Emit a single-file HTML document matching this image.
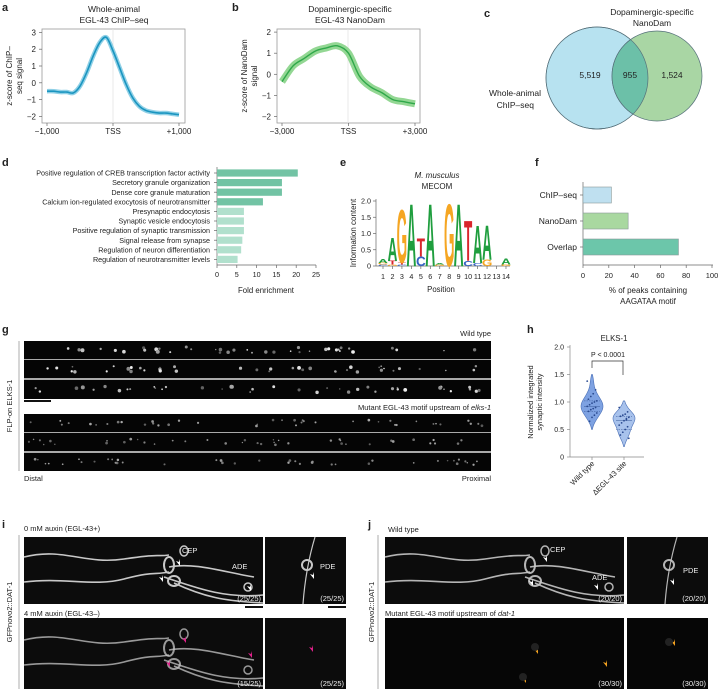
<!DOCTYPE html>
<html><head><meta charset="utf-8"><style>
html,body{margin:0;padding:0;background:#fff}
svg{display:block;font-family:"Liberation Sans",sans-serif}
text{fill:#222}
</style></head><body>
<svg id="fig" width="721" height="689" viewBox="0 0 721 689" xmlns="http://www.w3.org/2000/svg">
<g font-weight="bold" font-size="11">
<text x="2" y="11">a</text><text x="232" y="11">b</text><text x="484" y="17">c</text>
<text x="2" y="166">d</text><text x="340" y="166">e</text><text x="535" y="166">f</text>
<text x="2" y="333">g</text><text x="527" y="333">h</text><text x="2" y="528">i</text><text x="368" y="528">j</text>
</g>
<!-- panel a -->
<g font-size="8">
<text x="114" y="12" text-anchor="middle" font-size="8.5">Whole-animal</text>
<text x="114" y="23" text-anchor="middle" font-size="8.5">EGL-43 ChIP–seq</text>
<rect x="42" y="29" width="143" height="94" fill="none" stroke="#999" stroke-width="0.8"/>
<line x1="113" y1="29" x2="113" y2="123" stroke="#e4e4e4" stroke-width="0.8"/>
<text transform="translate(12,76) rotate(-90)" text-anchor="middle">z-score of ChIP–</text>
<text transform="translate(22,76) rotate(-90)" text-anchor="middle">seq signal</text>
<g id="a-ticks"></g><g id="a-series"></g>
</g>
<!-- panel b -->
<g font-size="8">
<text x="350" y="12" text-anchor="middle" font-size="8.5">Dopaminergic-specific</text>
<text x="350" y="23" text-anchor="middle" font-size="8.5">EGL-43 NanoDam</text>
<rect x="277" y="29" width="143" height="94" fill="none" stroke="#999" stroke-width="0.8"/>
<line x1="348" y1="29" x2="348" y2="123" stroke="#e4e4e4" stroke-width="0.8"/>
<text transform="translate(247,76) rotate(-90)" text-anchor="middle">z-score of NanoDam</text>
<text transform="translate(257,76) rotate(-90)" text-anchor="middle">signal</text>
<g id="b-ticks"></g><g id="b-series"></g>
</g>
<!-- panel c -->
<g font-size="8">
<text x="652" y="15" text-anchor="middle" font-size="8.5">Dopaminergic-specific</text>
<text x="652" y="26" text-anchor="middle" font-size="8.5">NanoDam</text>
<circle cx="597" cy="78" r="51" fill="#b7e2f0" stroke="#55707a" stroke-width="0.7"/>
<circle cx="657" cy="76" r="45" fill="#a9d6a4" stroke="#55707a" stroke-width="0.7"/>
<clipPath id="clipBlue"><circle cx="597" cy="78" r="51"/></clipPath>
<circle cx="657" cy="76" r="45" fill="#6cc0a8" stroke="#55707a" stroke-width="0.7" clip-path="url(#clipBlue)"/>
<circle cx="597" cy="78" r="51" fill="none" stroke="#55707a" stroke-width="0.7"/>
<text x="590" y="78" text-anchor="middle" font-size="8.5">5,519</text>
<text x="630" y="78" text-anchor="middle" font-size="8.5">955</text>
<text x="672" y="78" text-anchor="middle" font-size="8.5">1,524</text>
<text x="541" y="96" text-anchor="end" font-size="8.5">Whole-animal</text>
<text x="534" y="108" text-anchor="end" font-size="8.5">ChIP–seq</text>
</g>
<!-- panel d -->
<g font-size="7.2">
<line x1="217" y1="167" x2="217" y2="265" stroke="#666" stroke-width="0.7"/>
<line x1="217" y1="265" x2="316" y2="265" stroke="#666" stroke-width="0.7"/>
<g id="d-bars"></g>
<text x="266" y="293" text-anchor="middle" font-size="7.8">Fold enrichment</text>
</g>
<!-- panel e -->
<g font-size="7.2">
<text x="437" y="178" text-anchor="middle" font-style="italic" font-size="8">M. musculus</text>
<text x="437" y="189" text-anchor="middle" font-size="8">MECOM</text>
<line x1="376" y1="199" x2="376" y2="266" stroke="#666" stroke-width="0.7"/>
<line x1="376" y1="266" x2="510" y2="266" stroke="#666" stroke-width="0.7"/>
<text transform="translate(356,233) rotate(-90)" text-anchor="middle" font-size="8">Information content</text>
<g id="e-logo"></g>
<text x="441" y="292" text-anchor="middle" font-size="7.8">Position</text>
</g>
<!-- panel f -->
<g font-size="8">
<line x1="583" y1="182" x2="583" y2="265" stroke="#666" stroke-width="0.7"/>
<line x1="583" y1="265" x2="713" y2="265" stroke="#666" stroke-width="0.7"/>
<g id="f-bars"></g>
<text x="648" y="293" text-anchor="middle" font-size="8">% of peaks containing</text>
<text x="648" y="304" text-anchor="middle" font-size="8">AAGATAA motif</text>
</g>
<!-- panel g -->
<g font-size="7.5">
<text x="491" y="336" text-anchor="end">Wild type</text>
<line x1="19" y1="341" x2="19" y2="471" stroke="#999" stroke-width="0.8"/>
<text transform="translate(12,406) rotate(-90)" text-anchor="middle" font-size="7.5">FLP-on ELKS-1</text>
<g id="g-strips"></g>
<rect x="24" y="400" width="27" height="2" fill="#111"/>
<text x="491" y="410" text-anchor="end">Mutant EGL-43 motif upstream of <tspan font-style="italic">elks-1</tspan></text>
<text x="24" y="481">Distal</text>
<text x="491" y="481" text-anchor="end">Proximal</text>
</g>
<!-- panel h -->
<g font-size="7">
<text x="614" y="341" text-anchor="middle" font-size="7.8">ELKS-1</text>
<line x1="570" y1="345" x2="570" y2="457" stroke="#888" stroke-width="0.7"/>
<line x1="570" y1="457" x2="644" y2="457" stroke="#888" stroke-width="0.7"/>
<text transform="translate(533,402) rotate(-90)" text-anchor="middle" font-size="7.5">Normalized integrated</text>
<text transform="translate(542,402) rotate(-90)" text-anchor="middle" font-size="7.5">synaptic intensity</text>
<g id="h-plot"></g>
<path d="M592,368 V361 H623 V375" fill="none" stroke="#333" stroke-width="0.7"/>
<text x="608" y="357" text-anchor="middle" font-size="7">P &lt; 0.0001</text>
<text transform="translate(595,464) rotate(-45)" text-anchor="end" font-size="7.5">Wild type</text>
<text transform="translate(627,464) rotate(-45)" text-anchor="end" font-size="7.5">ΔEGL-43 site</text>
</g>
<!-- panel i -->
<g font-size="7.5">
<text x="24" y="531">0 mM auxin (EGL-43+)</text>
<line x1="19" y1="535" x2="19" y2="689" stroke="#999" stroke-width="0.8"/>
<text transform="translate(12,612) rotate(-90)" text-anchor="middle">GFPnovo2::DAT-1</text>
<rect x="24" y="537" width="239" height="67" fill="#0c0c0c"/>
<rect x="265" y="537" width="81" height="67" fill="#0c0c0c"/>
<rect x="24" y="618" width="239" height="71" fill="#0c0c0c"/>
<rect x="265" y="618" width="81" height="71" fill="#0c0c0c"/>
<rect x="245" y="606" width="18" height="2" fill="#111"/><rect x="328" y="606" width="18" height="2" fill="#111"/>
<text x="24" y="616">4 mM auxin (EGL-43–)</text>
<g id="i-neurons"></g>
</g>
<!-- panel j -->
<g font-size="7.5">
<text x="388" y="532">Wild type</text>
<line x1="378" y1="535" x2="378" y2="689" stroke="#999" stroke-width="0.8"/>
<text transform="translate(374,612) rotate(-90)" text-anchor="middle">GFPnovo2::DAT-1</text>
<rect x="385" y="537" width="239" height="67" fill="#0c0c0c"/>
<rect x="627" y="537" width="81" height="67" fill="#0c0c0c"/>
<rect x="385" y="618" width="239" height="71" fill="#060606"/>
<rect x="627" y="618" width="81" height="71" fill="#060606"/>
<text x="385" y="616">Mutant EGL-43 motif upstream of <tspan font-style="italic">dat-1</tspan></text>
<g id="j-neurons"></g>
</g>
</svg>
<script>
// ---- data ----
const aPositions = [-1000,-900,-800,-700,-600,-500,-400,-300,-200,-100,0,100,200,300,400,500,600,700,800,900,1000];
const aValues = [-0.5,-0.5,-0.55,-0.55,-0.6,-0.2,0.6,1.6,2.4,2.7,1.9,0.9,-0.1,-0.9,-1.4,-1.65,-1.75,-1.8,-1.8,-1.85,-1.9];
const aYTicks = [3,2,1,0,-1,-2];
const bPositions = [-3000,-2500,-2000,-1500,-1000,-500,0,500,1000,1500,2000,2500,3000];
const bValues = [-0.35,0.4,0.75,1.1,1.25,1.35,1.0,-0.1,-0.6,-0.87,-1.2,-1.3,-1.4];
const bYTicks = [2,1,0,-1,-2];
const dTerms = ["Positive regulation of CREB transcription factor activity","Secretory granule organization","Dense core granule maturation","Calcium ion-regulated exocytosis of neurotransmitter","Presynaptic endocytosis","Synaptic vesicle endocytosis","Positive regulation of synaptic transmission","Signal release from synapse","Regulation of neuron differentiation","Regulation of neurotransmitter levels"];
const dFold = [20.4,16.4,16.4,11.6,6.8,6.8,6.8,6.4,6.1,5.2];
const dTicks = [0,5,10,15,20,25];
const ePositions = [1,2,3,4,5,6,7,8,9,10,11,12,13,14];
const eLetters = [["C","G","A"],["G","T","A"],["C","T","G"],["A"],["C","T"],["A"],["G","A"],["G"],["A"],["C","T"],["C","A"],["G","A"],[],["G","A"]];
const eBits = [[0.04,0.05,0.12],[0.04,0.12,0.75],[0.04,0.05,1.7],[2.0],[0.3,0.58],[2.0],[0.04,0.04],[2.0],[2.0],[0.17,1.3],[0.1,1.2],[0.2,1.1],[],[0.05,0.18]];
const eYTicks = [0,0.5,1.0,1.5,2.0];
const fCats = ["ChIP–seq","NanoDam","Overlap"];
const fValues = [22,35,74];
const fTicks = [0,20,40,60,80,100];
const hCats = ["Wild type","ΔEGL-43 site"];
const hWT = [1.38,1.22,1.15,1.1,1.05,1.02,1.0,0.98,0.95,0.92,0.9,0.88,0.86,0.83,0.8,0.76,0.72,0.65];
const hMut = [0.9,0.82,0.78,0.76,0.74,0.72,0.7,0.66,0.62,0.58,0.55,0.5,0.45,0.4,0.34,0.68];
const hTicks = [0,0.5,1.0,1.5,2.0];

const NS="http://www.w3.org/2000/svg";
function mk(tag,attrs,parent,txt){const e=document.createElementNS(NS,tag);for(const k in attrs)e.setAttribute(k,attrs[k]);if(txt!==undefined)e.textContent=txt;parent.appendChild(e);return e;}
const $=id=>document.getElementById(id);
function smooth(pts){let d=`M${pts[0][0]},${pts[0][1]}`;for(let i=0;i<pts.length-1;i++){const p0=pts[Math.max(0,i-1)],p1=pts[i],p2=pts[i+1],p3=pts[Math.min(pts.length-1,i+2)];d+=` C${p1[0]+(p2[0]-p0[0])/6},${p1[1]+(p2[1]-p0[1])/6} ${p2[0]-(p3[0]-p1[0])/6},${p2[1]-(p3[1]-p1[1])/6} ${p2[0]},${p2[1]}`;}return d;}

// panel a
(function(){
 const xa=v=>47+(v+1000)/2000*132, ya=v=>116.4-(v+2)*16.8;
 const t=$("a-ticks");
 aYTicks.forEach(v=>{mk("line",{x1:39,x2:42,y1:ya(v),y2:ya(v),stroke:"#666","stroke-width":0.7},t);const l=mk("text",{x:36,y:ya(v)+3,"text-anchor":"end"},t,String(v).replace("-","−"));});
 [[-1000,"−1,000"],[0,"TSS"],[1000,"+1,000"]].forEach(([v,s])=>{mk("line",{x1:xa(v),x2:xa(v),y1:123,y2:126,stroke:"#666","stroke-width":0.7},t);mk("text",{x:xa(v),y:134,"text-anchor":"middle"},t,s);});
 const g=$("a-series");
 const pts=aPositions.map((p,i)=>[xa(p),ya(aValues[i])]);
 const band=mk("path",{d:smooth(pts),fill:"none",stroke:"#8fd0e6","stroke-width":4.5,"stroke-linejoin":"round"},g);
 
 const ln=mk("path",{d:smooth(pts),fill:"none",stroke:"#1a95c0","stroke-width":1.6},g);
 
})();
// panel b
(function(){
 const xb=v=>282+(v+3000)/6000*133, yb=v=>116.5-(v+2)*21.1;
 const t=$("b-ticks");
 bYTicks.forEach(v=>{mk("line",{x1:274,x2:277,y1:yb(v),y2:yb(v),stroke:"#666","stroke-width":0.7},t);const l=mk("text",{x:271,y:yb(v)+3,"text-anchor":"end"},t,String(v).replace("-","−"));});
 [[-3000,"−3,000"],[0,"TSS"],[3000,"+3,000"]].forEach(([v,s])=>{mk("line",{x1:xb(v),x2:xb(v),y1:123,y2:126,stroke:"#666","stroke-width":0.7},t);mk("text",{x:xb(v),y:134,"text-anchor":"middle"},t,s);});
 const g=$("b-series");
 const pts=bPositions.map((p,i)=>[xb(p),yb(bValues[i])]);
 const band=mk("path",{d:smooth(pts),fill:"none",stroke:"#93d793","stroke-width":7,"stroke-linejoin":"round"},g);
 
 const ln=mk("path",{d:smooth(pts),fill:"none",stroke:"#2fa84a","stroke-width":1.4},g);
 
})();
// panel d
(function(){
 const xd=v=>217+v*3.96, yd=i=>173+i*9.6;
 const g=$("d-bars");
 dTerms.forEach((s,i)=>{
  const r=mk("rect",{x:217,y:yd(i)-3.6,width:xd(dFold[i])-217,height:7.2,fill:i<4?"#72c3a4":"#b1e0cd"},g);
  
  mk("line",{x1:214,x2:217,y1:yd(i),y2:yd(i),stroke:"#666","stroke-width":0.7},g);
  mk("text",{x:210,y:yd(i)+2.6,"text-anchor":"end"},g,s);
 });
 dTicks.forEach(v=>{mk("line",{x1:xd(v),x2:xd(v),y1:265,y2:268,stroke:"#666","stroke-width":0.7},g);mk("text",{x:xd(v),y:277,"text-anchor":"middle"},g,String(v));});
})();
// panel e
(function(){
 const xe=p=>383+(p-1)*9.46, ye=v=>266-v*32.5;
 const col={A:"#1f9e3e",G:"#f5a623",T:"#d9262c",C:"#3562c4"};
 const g=$("e-logo");
 eYTicks.forEach(v=>{mk("line",{x1:373,x2:376,y1:ye(v),y2:ye(v),stroke:"#666","stroke-width":0.7},g);mk("text",{x:371,y:ye(v)+2.5,"text-anchor":"end"},g,v===0?"0":v.toFixed(1));});
 ePositions.forEach((p,i)=>{
  mk("line",{x1:xe(p),x2:xe(p),y1:266,y2:269,stroke:"#666","stroke-width":0.7},g);
  mk("text",{x:xe(p),y:279,"text-anchor":"middle"},g,String(p));
  let base=0;
  eLetters[i].forEach((L,j)=>{
   const h=eBits[i][j]; const y0=ye(base);
   const sy=(h*32.5)/7.3;
   const t=mk("text",{transform:`translate(${xe(p)},${y0}) scale(1.35,${sy.toFixed(3)})`,"text-anchor":"middle","font-size":10,"font-weight":"bold",style:"fill:"+col[L]},g,L);
   
   base+=h;
  });
 });
})();
// panel f
(function(){
 const xf=v=>583+v*1.29, yf=i=>195+i*26;
 const fills=["#bfe0f0","#a9d8a0","#6cc6aa"];
 const g=$("f-bars");
 fCats.forEach((s,i)=>{
  const r=mk("rect",{x:583,y:yf(i)-8,width:xf(fValues[i])-583,height:16,fill:fills[i],stroke:"#8a9a9a","stroke-width":0.6},g);
  
  mk("line",{x1:580,x2:583,y1:yf(i),y2:yf(i),stroke:"#666","stroke-width":0.7},g);
  mk("text",{x:577,y:yf(i)+3,"text-anchor":"end","font-size":8.5},g,s);
 });
 fTicks.forEach(v=>{mk("line",{x1:xf(v),x2:xf(v),y1:265,y2:268,stroke:"#666","stroke-width":0.7},g);mk("text",{x:xf(v),y:278,"text-anchor":"middle","font-size":7.5},g,String(v));});
})();
// panel g strips (image texture, deterministic)
(function(){
 let s=12345;const rnd=()=>{s=(s*1103515245+12345)%2147483648;return s/2147483648;};
 const g=$("g-strips");
 const strips=[[341,18,1],[360,18,1],[380,19,1],[414,18,0.55],[433,18,0.55],[453,18,0.55]];
 mk("rect",{x:24,y:341,width:467,height:58,fill:"#aaa"},g);
 mk("rect",{x:24,y:414,width:467,height:57,fill:"#aaa"},g);
 strips.forEach(([y,h,b])=>{
  const r=mk("rect",{x:24,y:y,width:467,height:h,fill:"#050505"},g);
  
  for(let k=0;k<40;k++){const x=28+rnd()*459, yy=y+h/2+(rnd()-0.5)*6; const rad=0.7+rnd()*1.3*b; const v=Math.floor(90+rnd()*150*b);
   mk("circle",{cx:x,cy:yy,r:rad,fill:`rgb(${v},${v},${v})`},g);}
 });
})();
// panel h
(function(){
 const yh=v=>457-v*55, xc=[592,624];
 const g=$("h-plot");
 hTicks.forEach(v=>{mk("line",{x1:567,x2:570,y1:yh(v),y2:yh(v),stroke:"#888","stroke-width":0.7},g);mk("text",{x:564,y:yh(v)+2.5,"text-anchor":"end"},g,v===0?"0":v.toFixed(1));});
 [hWT,hMut].forEach((arr,ci)=>{
  mk("line",{x1:xc[ci],x2:xc[ci],y1:457,y2:460,stroke:"#888","stroke-width":0.7},g);
  const mn=Math.min(...arr)-0.15, mx=Math.max(...arr)+0.12, bw=0.09;
  const pts=[],steps=40;
  for(let k=0;k<=steps;k++){const v=mn+(mx-mn)*k/steps;let d=0;arr.forEach(a=>{d+=Math.exp(-0.5*((v-a)/bw)**2);});pts.push([v,d]);}
  const dmax=Math.max(...pts.map(p=>p[1]));
  const right=pts.map(p=>`${xc[ci]+p[1]/dmax*11},${yh(p[0])}`), left=pts.map(p=>`${xc[ci]-p[1]/dmax*11},${yh(p[0])}`).reverse();
  const v=mk("polygon",{points:right.concat(left).join(" "),fill:ci?"#a8c2ec":"#7ea2e2",stroke:"#4a6fb5","stroke-width":0.6},g);
  
  const sorted=[...arr].sort((a,b)=>a-b);
  [0.25,0.5,0.75].forEach(q=>{const y=yh(sorted[Math.floor(q*(sorted.length-1))]);mk("line",{x1:xc[ci]-8,x2:xc[ci]+8,y1:y,y2:y,stroke:"#3a5a9a","stroke-width":0.5,"stroke-dasharray":q===0.5?"":"1.5,1"},g);});
  arr.forEach((a,k)=>{const d=mk("circle",{cx:xc[ci]+((k*7)%9-4)*1.2,cy:yh(a),r:0.9,fill:"#2a4a90"},g);});
 });
})();
// neuron micrographs (illustrative)
(function(){
 const gi=$("i-neurons"), gj=$("j-neurons");
 function neur(g,ox,oy,bright){
  const c=`rgba(200,200,200,${bright})`;
  const paths=[`M${ox},${oy+20} C${ox+40},${oy+10} ${ox+60},${oy+28} ${ox+100},${oy+22} S${ox+130},${oy+20} ${ox+145},${oy+18}`,
   `M${ox},${oy+45} C${ox+40},${oy+40} ${ox+70},${oy+50} ${ox+100},${oy+42} S${ox+130},${oy+38} ${ox+145},${oy+35}`,
   `M${ox+140},${oy+40} C${ox+170},${oy+50} ${ox+200},${oy+62} ${ox+239},${oy+58}`,
   `M${ox+145},${oy+30} C${ox+170},${oy+25} ${ox+200},${oy+35} ${ox+230},${oy+40}`,
   `M${ox+150},${oy+46} C${ox+180},${oy+60} ${ox+200},${oy+64} ${ox+239},${oy+66}`];
  paths.forEach(d=>mk("path",{d:d,fill:"none",stroke:c,"stroke-width":1.6},g));
  mk("ellipse",{cx:ox+145,cy:oy+28,rx:5,ry:8,fill:"none",stroke:c,"stroke-width":2},g);
  mk("ellipse",{cx:ox+150,cy:oy+44,rx:6,ry:5,fill:"none",stroke:c,"stroke-width":2},g);
  mk("ellipse",{cx:ox+160,cy:oy+14,rx:4,ry:5,fill:"none",stroke:c,"stroke-width":1.5},g);
  mk("ellipse",{cx:ox+224,cy:oy+50,rx:4,ry:4,fill:"none",stroke:c,"stroke-width":1.5},g);
 }
 function small(g,ox,oy,h,bright){const c=`rgba(200,200,200,${bright})`;mk("path",{d:`M${ox+50},${oy} C${ox+44},${oy+20} ${ox+40},${oy+40} ${ox+38},${oy+h}`,fill:"none",stroke:c,"stroke-width":1.2},g);mk("circle",{cx:ox+42,cy:oy+28,r:5,fill:"none",stroke:c,"stroke-width":2},g);}
 function arrow(g,x,y,col){mk("path",{d:`M${x},${y} l-4,-5 l3,1 l1,-3 z`,fill:col},g);}
 function wtxt(g,x,y,s,anchor){mk("text",{x:x,y:y,"text-anchor":anchor||"start",style:"fill:#eee","font-size":7.5},g,s);}
 neur(gi,24,537,1); small(gi,265,537,67,1);
 neur(gi,24,620,0.75);
 neur(gj,385,537,0.9); small(gj,627,537,67,0.9);
 arrow(gi,180,566,"#fff");arrow(gi,163,582,"#fff");arrow(gi,251,591,"#fff");arrow(gi,314,579,"#fff");
 arrow(gi,186,643,"#e0208a");arrow(gi,170,667,"#e0208a");arrow(gi,252,658,"#e0208a");arrow(gi,313,652,"#e0208a");
 arrow(gj,547,562,"#fff");arrow(gj,533,586,"#fff");arrow(gj,598,590,"#fff");arrow(gj,674,585,"#fff");
 arrow(gj,538,654,"#f0a020");arrow(gj,526,683,"#f0a020");arrow(gj,607,667,"#f0a020");arrow(gj,675,646,"#f0a020");
 mk("circle",{cx:535,cy:647,r:4,fill:"#222"},gj);mk("circle",{cx:523,cy:677,r:4,fill:"#222"},gj);mk("circle",{cx:669,cy:642,r:4,fill:"#222"},gj);
 wtxt(gi,182,553,"CEP");wtxt(gi,232,569,"ADE");wtxt(gi,320,569,"PDE");
 wtxt(gi,261,601,"(25/25)","end");wtxt(gi,344,601,"(25/25)","end");wtxt(gi,261,686,"(15/25)","end");wtxt(gi,344,686,"(25/25)","end");
 wtxt(gj,550,552,"CEP");wtxt(gj,592,580,"ADE");wtxt(gj,683,573,"PDE");
 wtxt(gj,622,601,"(20/20)","end");wtxt(gj,706,601,"(20/20)","end");wtxt(gj,622,686,"(30/30)","end");wtxt(gj,706,686,"(30/30)","end");
})();
</script>
</body></html>
